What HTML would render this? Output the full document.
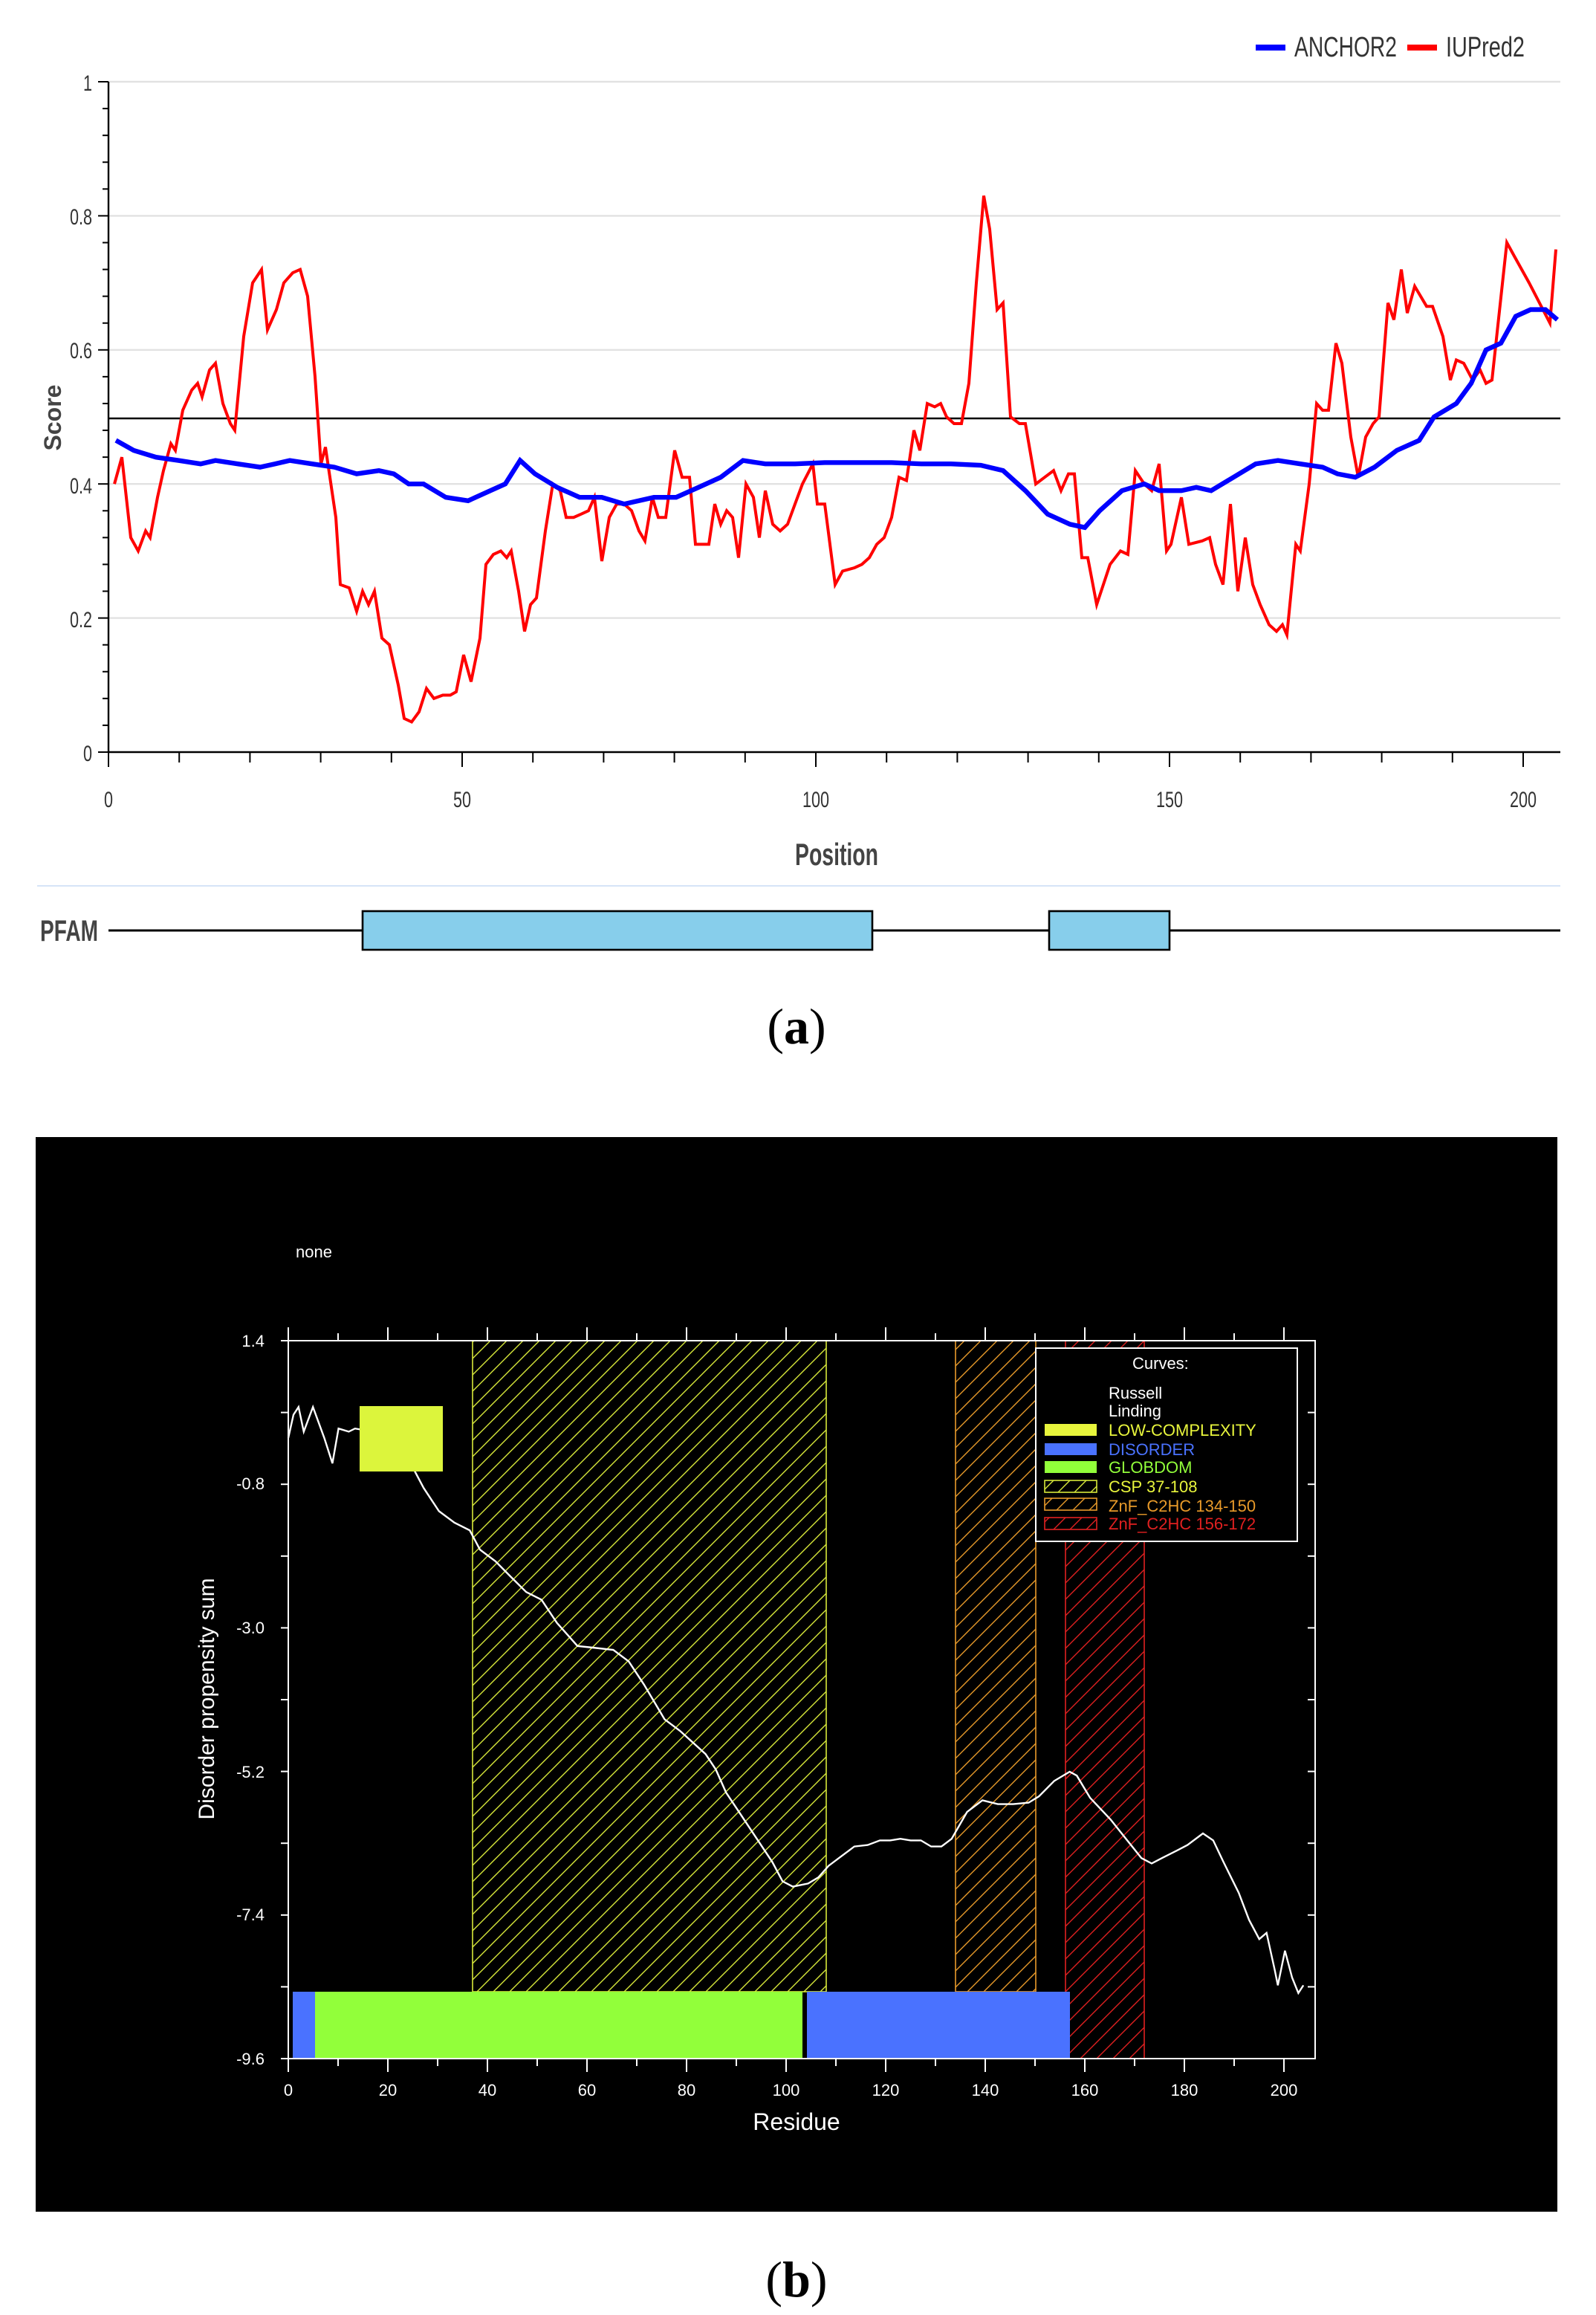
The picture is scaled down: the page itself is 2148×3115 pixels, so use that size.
<!DOCTYPE html>
<html><head><meta charset="utf-8">
<style>
html,body{margin:0;padding:0;background:#fff;}
svg{display:block;}
text{font-family:"Liberation Sans",sans-serif;}
.n{font-family:"Liberation Sans Narrow","Liberation Sans",sans-serif;}
</style></head>
<body>
<svg id="s" width="2148" height="3115" viewBox="0 0 1074 1557.5" xmlns="http://www.w3.org/2000/svg">
<defs>
<pattern id="hy" patternUnits="userSpaceOnUse" width="11" height="11"><path d="M-1,1 l2,-2 M0,11 l11,-11 M10,12 l2,-2" stroke="#d8e83a" stroke-width="0.7"/></pattern>
<pattern id="ho" patternUnits="userSpaceOnUse" width="11" height="11"><path d="M-1,1 l2,-2 M0,11 l11,-11 M10,12 l2,-2" stroke="#e89a2a" stroke-width="0.7"/></pattern>
<pattern id="hr" patternUnits="userSpaceOnUse" width="11" height="11"><path d="M-1,1 l2,-2 M0,11 l11,-11 M10,12 l2,-2" stroke="#e02020" stroke-width="0.7"/></pattern>
</defs>
<rect width="1074" height="1557.5" fill="#fff"/>
<!-- chart a -->
<g id="grid" stroke="#e2e2e2" stroke-width="1.2"></g>
<line x1="73" y1="281.5" x2="1050" y2="281.5" stroke="#000" stroke-width="1.3"/>
<line x1="73" y1="55" x2="73" y2="506" stroke="#000" stroke-width="1.2"/>
<line x1="73" y1="506" x2="1050" y2="506" stroke="#000" stroke-width="1.2"/>
<g id="ticks" stroke="#000" stroke-width="1"></g>
<g fill="#333" font-size="15" text-anchor="end">
<text transform="translate(62,61) scale(0.72,1)">1</text>
<text transform="translate(62,151) scale(0.72,1)">0.8</text>
<text transform="translate(62,241) scale(0.72,1)">0.6</text>
<text transform="translate(62,332) scale(0.72,1)">0.4</text>
<text transform="translate(62,422) scale(0.72,1)">0.2</text>
<text transform="translate(62,512) scale(0.72,1)">0</text>
</g>
<g fill="#333" font-size="15" text-anchor="middle">
<text transform="translate(73,543) scale(0.72,1)">0</text>
<text transform="translate(311,543) scale(0.72,1)">50</text>
<text transform="translate(549,543) scale(0.72,1)">100</text>
<text transform="translate(787,543) scale(0.72,1)">150</text>
<text transform="translate(1025,543) scale(0.72,1)">200</text>
</g>
<text x="563" y="582" font-size="21" font-weight="bold" fill="#444" text-anchor="middle" textLength="56" lengthAdjust="spacingAndGlyphs">Position</text>
<text transform="translate(41,281) rotate(-90)" font-size="16" font-weight="bold" fill="#444" text-anchor="middle">Score</text>
<polyline id="red" fill="none" stroke="#ff0000" stroke-width="2"/>
<polyline id="blue" fill="none" stroke="#0000ff" stroke-width="3.2"/>
<line x1="845" y1="32" x2="865" y2="32" stroke="#0000ff" stroke-width="4"/>
<text x="871" y="38" font-size="19" fill="#333" textLength="69" lengthAdjust="spacingAndGlyphs">ANCHOR2</text>
<line x1="947" y1="32" x2="967" y2="32" stroke="#ff0000" stroke-width="4"/>
<text x="973" y="38" font-size="19" fill="#333" textLength="53" lengthAdjust="spacingAndGlyphs">IUPred2</text>
<line x1="25" y1="596" x2="1050" y2="596" stroke="#d6e4f7" stroke-width="1"/>
<text x="27" y="633" font-size="20" font-weight="bold" fill="#444" textLength="39" lengthAdjust="spacingAndGlyphs">PFAM</text>
<line x1="73" y1="626" x2="1050" y2="626" stroke="#000" stroke-width="1.5"/>
<rect x="244" y="613" width="343" height="26" fill="#87ceeb" stroke="#000" stroke-width="1.3"/>
<rect x="706" y="613" width="81" height="26" fill="#87ceeb" stroke="#000" stroke-width="1.3"/>
<text x="536" y="702" font-size="34" text-anchor="middle" style="font-family:'Liberation Serif',serif" fill="#000">(<tspan font-weight="bold">a</tspan>)</text>
<!-- chart b -->
<rect x="24" y="765" width="1024" height="723" fill="#000"/>
<text x="199" y="846" font-size="11" fill="#fff">none</text>
<rect x="318" y="902" width="238" height="438" fill="url(#hy)" stroke="#d8e83a" stroke-width="0.8"/>
<rect x="643" y="902" width="54" height="438" fill="url(#ho)" stroke="#e89a2a" stroke-width="0.8"/>
<rect x="717" y="902" width="53" height="483" fill="url(#hr)" stroke="#e02020" stroke-width="0.8"/>
<rect x="197" y="1340" width="15" height="45" fill="#4a72ff"/>
<rect x="212" y="1340" width="328" height="45" fill="#92ff3a"/>
<rect x="543" y="1340" width="177" height="45" fill="#4a72ff"/>
<polyline id="white" fill="none" stroke="#fff" stroke-width="1.2"/>
<rect x="242" y="946" width="56" height="44" fill="#dcf53c"/>
<rect x="194" y="902" width="691" height="483" fill="none" stroke="#fff" stroke-width="1"/>
<g id="bt" stroke="#fff" stroke-width="1"></g>
<g fill="#fff" font-size="11" text-anchor="end">
<text x="178" y="906">1.4</text><text x="178" y="1002">-0.8</text><text x="178" y="1099">-3.0</text>
<text x="178" y="1196">-5.2</text><text x="178" y="1292">-7.4</text><text x="178" y="1389">-9.6</text>
</g>
<g id="bxl" fill="#fff" font-size="11" text-anchor="middle"></g>
<text x="536" y="1433" font-size="16" fill="#fff" text-anchor="middle">Residue</text>
<text transform="translate(144,1143) rotate(-90)" font-size="15" fill="#fff" text-anchor="middle">Disorder propensity sum</text>
<rect x="697" y="907" width="176" height="130" fill="#000" stroke="#fff" stroke-width="1"/>
<g font-size="11">
<text x="762" y="921" fill="#fff">Curves:</text>
<text x="746" y="941" fill="#fff">Russell</text>
<text x="746" y="953" fill="#fff">Linding</text>
<rect x="703" y="958" width="35" height="8" fill="#e8f53c"/><text x="746" y="966" fill="#e8f53c">LOW-COMPLEXITY</text>
<rect x="703" y="971" width="35" height="8" fill="#4a72ff"/><text x="746" y="979" fill="#4a72ff">DISORDER</text>
<rect x="703" y="983" width="35" height="8" fill="#92ff3a"/><text x="746" y="991" fill="#92ff3a">GLOBDOM</text>
<rect x="703" y="996" width="35" height="8" fill="url(#hy)" stroke="#d8e83a" stroke-width="0.8"/><text x="746" y="1004" fill="#e8f53c">CSP 37-108</text>
<rect x="703" y="1008" width="35" height="8" fill="url(#ho)" stroke="#e89a2a" stroke-width="0.8"/><text x="746" y="1017" fill="#e89a2a">ZnF_C2HC 134-150</text>
<rect x="703" y="1021" width="35" height="8" fill="url(#hr)" stroke="#e02020" stroke-width="0.8"/><text x="746" y="1029" fill="#e02020">ZnF_C2HC 156-172</text>
</g>
<text x="536" y="1545" font-size="34" text-anchor="middle" style="font-family:'Liberation Serif',serif" fill="#000">(<tspan font-weight="bold">b</tspan>)</text>
</svg>
<script>
var NS="http://www.w3.org/2000/svg";
function el(p,t,a){var e=document.createElementNS(NS,t);for(var k in a)e.setAttribute(k,a[k]);p.appendChild(e);return e;}
function Y(v){return 506-451*v;}
var g=document.getElementById("grid");
[1,0.8,0.6,0.4,0.2].forEach(function(v){el(g,"line",{x1:73,x2:1050,y1:Y(v),y2:Y(v)});});
var t=document.getElementById("ticks");
for(var v=0;v<=1.0001;v+=0.04){var big=Math.abs(v*5-Math.round(v*5))<0.01;el(t,"line",{x1:big?66:69,x2:73,y1:Y(v),y2:Y(v)});}
for(var p=0;p<=200;p+=10){var x=73+4.76*p;el(t,"line",{x1:x,x2:x,y1:506,y2:p%50==0?516:513});}
var red=[77,.40,82,.44,88,.32,93,.30,98,.33,101,.32,106,.38,110,.42,115,.46,118,.45,123,.51,129,.54,133,.55,136,.53,141,.57,145,.58,150,.52,155,.49,158,.48,164,.62,170,.70,176,.72,180,.63,186,.66,191,.70,197,.715,202,.72,207,.68,212,.56,216,.43,219,.455,226,.35,229,.25,235,.245,240,.21,244,.24,248,.22,252,.24,257,.17,262,.16,268,.10,272,.05,277,.045,282,.06,287,.095,292,.08,298,.085,303,.085,307,.09,312,.145,317,.105,323,.17,327,.28,332,.295,337,.30,341,.29,344,.30,349,.24,353,.18,357,.22,361,.23,367,.33,372,.40,377,.39,381,.35,386,.35,391,.355,396,.36,400,.38,405,.285,410,.35,415,.37,420,.37,425,.36,430,.33,434,.315,439,.38,443,.35,448,.35,454,.45,459,.41,464,.41,468,.31,473,.31,477,.31,481,.37,485,.34,489,.36,493,.35,497,.29,502,.40,507,.38,511,.32,515,.39,520,.34,525,.33,530,.34,535,.37,540,.40,547,.43,550,.37,555,.37,562,.25,567,.27,575,.275,580,.28,585,.29,590,.31,595,.32,600,.35,605,.41,610,.405,615,.48,619,.45,624,.52,629,.515,633,.52,637,.50,642,.49,647,.49,652,.55,657,.70,662,.83,666,.78,671,.66,675,.67,680,.50,686,.49,690,.49,697,.40,703,.41,709,.42,714,.39,719,.415,723,.415,728,.29,732,.29,738,.22,747,.28,754,.30,759,.295,764,.42,770,.40,775,.39,780,.43,785,.30,788,.31,795,.38,800,.31,809,.315,814,.32,818,.28,823,.25,828,.37,833,.24,838,.32,843,.25,848,.22,854,.19,859,.18,863,.19,866,.175,872,.31,875,.30,881,.40,886,.52,890,.51,894,.51,899,.61,903,.58,909,.47,914,.41,919,.47,924,.49,928,.50,934,.67,938,.645,943,.72,947,.655,952,.695,960,.665,964,.665,971,.62,976,.555,980,.585,985,.58,991,.555,996,.57,1000,.55,1004,.555,1014,.76,1019,.74,1029,.70,1043,.64,1047,.75];
var blue=[78,.465,90,.45,105,.44,120,.435,135,.43,145,.435,160,.43,175,.425,185,.43,195,.435,210,.43,225,.425,240,.415,255,.42,265,.415,275,.40,285,.40,300,.38,315,.375,330,.39,340,.40,350,.435,360,.415,375,.395,390,.38,405,.38,420,.37,440,.38,455,.38,470,.395,485,.41,500,.435,515,.43,535,.43,555,.432,580,.432,600,.432,620,.43,640,.43,660,.428,675,.42,690,.39,705,.355,720,.34,730,.335,740,.36,755,.39,770,.40,780,.39,795,.39,805,.395,815,.39,830,.41,845,.43,860,.435,875,.43,890,.425,900,.415,912,.41,925,.425,940,.45,955,.465,965,.50,980,.52,990,.55,1000,.60,1010,.61,1020,.65,1030,.66,1040,.66,1048,.645];
function pts(a){var s="";for(var i=0;i<a.length;i+=2)s+=a[i]+","+Y(a[i+1]).toFixed(1)+" ";return s;}
document.getElementById("red").setAttribute("points",pts(red));
document.getElementById("blue").setAttribute("points",pts(blue));
var w=[283,410,288,380,293,370,298,402,307,370,318,410,326,443,332,398,342,402,348,398,380,405,405,450,415,475,430,505,445,520,460,530,470,555,485,570,500,590,515,610,530,620,545,650,565,680,580,682,600,685,615,700,630,730,650,775,665,790,690,820,700,840,710,870,725,900,740,930,755,960,765,985,775,992,790,988,800,980,810,965,820,955,835,940,848,938,860,932,870,932,880,930,890,932,900,932,910,940,920,940,930,930,945,895,960,880,975,885,990,885,1005,883,1015,875,1030,855,1045,843,1052,848,1065,877,1085,905,1100,930,1115,955,1125,962,1135,955,1150,945,1160,938,1175,923,1185,932,1195,960,1210,1000,1220,1035,1230,1060,1237,1052,1245,1100,1248,1120,1255,1075,1262,1110,1268,1130,1273,1120];
var s="";for(var i=0;i<w.length;i+=2){s+=(194+(w[i]-283)*670/971).toFixed(1)+","+(902+(w[i+1]-284)*483/931).toFixed(1)+" ";}
document.getElementById("white").setAttribute("points",s);
var bt=document.getElementById("bt"),bx=document.getElementById("bxl");
for(var r=0;r<=200;r+=10){var x=194+3.35*r;el(bt,"line",{x1:x,x2:x,y1:902,y2:r%20==0?893:897});el(bt,"line",{x1:x,x2:x,y1:1385,y2:r%20==0?1394:1390});
if(r%20==0){var tx=el(bx,"text",{x:x,y:1410});tx.textContent=r;}}
for(var k=0;k<=10;k++){var y=902+k*483/10;el(bt,"line",{x1:885,x2:880,y1:y,y2:y});el(bt,"line",{x1:194,x2:189,y1:y,y2:y});}
</script>
</body></html>
